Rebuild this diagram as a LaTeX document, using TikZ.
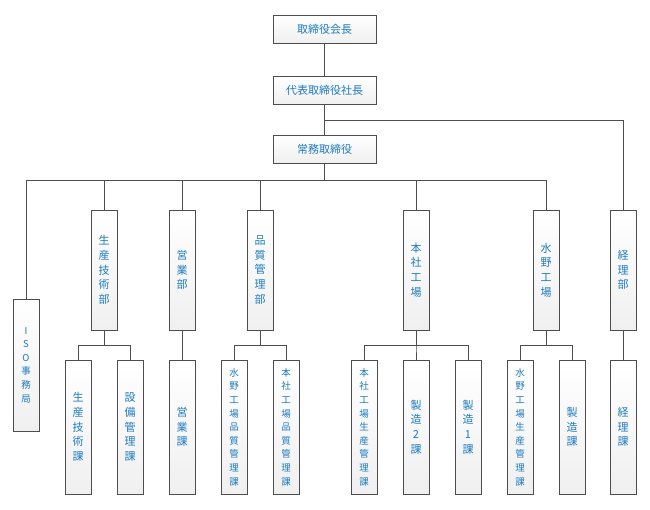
\documentclass[tikz,border=0pt]{standalone}
\usepackage{fontspec}
\newfontfamily\jp{Noto Sans CJK JP}
\definecolor{linegray}{HTML}{4D4D4D}
\definecolor{textblue}{HTML}{1E7BC0}
\tikzset{
  box/.style={draw=linegray, line width=0.9pt, top color=white, bottom color=gray!12,
    text=textblue, font=\jp\fontsize{11}{14.6}\selectfont, align=center, inner sep=0pt},
  topbox/.style={box, minimum width=103pt, minimum height=28pt},
  deptbox/.style={box, minimum width=26pt, minimum height=120pt},
  secbox/.style={box, minimum width=26pt, minimum height=134pt},
  small/.style={font=\jp\fontsize{9.5}{13.6}\selectfont},
  conn/.style={draw=linegray, line width=1pt},
}
\begin{document}
\begin{tikzpicture}[x=1pt, y=-1pt]
    \useasboundingbox (0,0) rectangle (650,509);
    % top management
    \node[topbox] (chair) at (324.5,29) {取締役会長};
    \node[topbox] (pres) at (324.5,90) {代表取締役社長};
    \node[topbox] (senmu) at (324.5,149) {常務取締役};
    \coordinate (j1) at (324.5,120);
    \coordinate (j2) at (324.5,180);

    % departments
    \node[box, minimum width=26pt, minimum height=132pt, small] (iso) at (26,365) {I\\S\\O\\事\\務\\局};
    \node[deptbox] (seigi) at (104,270) {生\\産\\技\\術\\部};
    \node[deptbox] (eigyo) at (182,270) {営\\業\\部};
    \node[deptbox] (hinshitsu) at (260,270) {品\\質\\管\\理\\部};
    \node[deptbox] (honsha) at (416,270) {本\\社\\工\\場};
    \node[deptbox] (mizuno) at (546,270) {水\\野\\工\\場};
    \node[deptbox] (keiri) at (623,270) {経\\理\\部};

    % sections
    \node[secbox] (seigika) at (78,427) {生\\産\\技\\術\\課};
    \node[secbox] (setsubi) at (130,427) {設\\備\\管\\理\\課};
    \node[secbox] (eigyoka) at (182,427) {営\\業\\課};
    \node[secbox, small] (mzhin) at (234,427) {水\\野\\工\\場\\品\\質\\管\\理\\課};
    \node[secbox, small] (hshin) at (286,427) {本\\社\\工\\場\\品\\質\\管\\理\\課};
    \node[secbox, small] (hsseisan) at (364,427) {本\\社\\工\\場\\生\\産\\管\\理\\課};
    \node[secbox] (seizo2) at (416,427) {製\\造\\2\\課};
    \node[secbox] (seizo1) at (468,427) {製\\造\\1\\課};
    \node[secbox, small] (mzseisan) at (520,427) {水\\野\\工\\場\\生\\産\\管\\理\\課};
    \node[secbox] (seizo) at (572,427) {製\\造\\課};
    \node[secbox] (keirika) at (623,427) {経\\理\\課};

    % connectors
    \draw[conn] (chair) -- (pres);
    \draw[conn] (pres) -- (senmu);
    \draw[conn] (j1) -| (keiri);
    \draw[conn] (senmu) -- (j2);
    \foreach \n in {iso,seigi,eigyo,hinshitsu,honsha,mizuno}
        \draw[conn] (j2) -| (\n);
    \foreach \n in {seigika,setsubi}
        \draw[conn] (seigi.south) -- ++(0,15) -| (\n);
    \draw[conn] (eigyo) -- (eigyoka);
    \foreach \n in {mzhin,hshin}
        \draw[conn] (hinshitsu.south) -- ++(0,15) -| (\n);
    \foreach \n in {hsseisan,seizo2,seizo1}
        \draw[conn] (honsha.south) -- ++(0,15) -| (\n);
    \foreach \n in {mzseisan,seizo}
        \draw[conn] (mizuno.south) -- ++(0,15) -| (\n);
    \draw[conn] (keiri) -- (keirika);
\end{tikzpicture}
\end{document}
